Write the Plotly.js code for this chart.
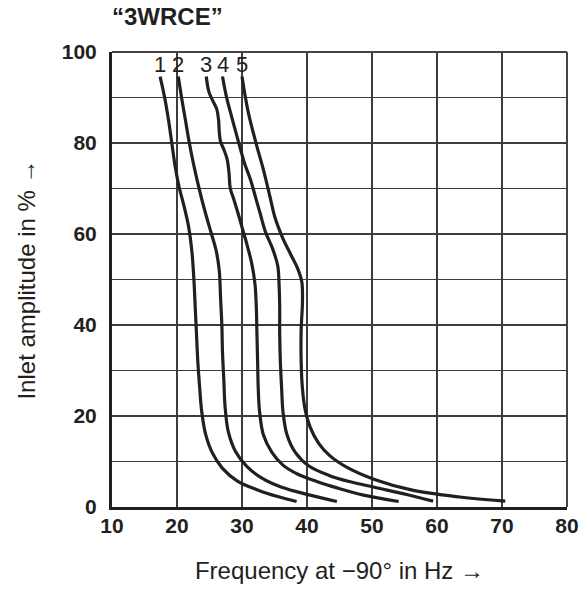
<!DOCTYPE html>
<html>
<head>
<meta charset="utf-8">
<script src="https://cdn.plot.ly/plotly-3.0.1.min.js"></script>
<style>html,body{margin:0;padding:0;background:#fff;}#chart{width:588px;height:593px;}</style>
</head>
<body>
<div id="chart"></div>
<script>
// Curve labels
const curveLabels = ['1', '2', '3', '4', '5'];

// Curve 1
const c1x = [17.4, 18.1, 18.7, 19.2, 19.7, 20.3, 21.1, 21.8, 22.3, 22.6, 22.8, 23.0, 23.2, 23.5, 23.8, 24.4, 25.4, 27.0, 29.3, 32.5, 35.5, 38.4];
const c1y = [94.6, 90.0, 85.0, 80.0, 75.0, 70.5, 66.0, 61.5, 56.0, 50.0, 44.0, 38.0, 32.0, 26.0, 21.0, 16.0, 12.0, 8.5, 5.7, 3.7, 2.3, 1.2];
// Curve 2
const c2x = [20.2, 20.7, 21.3, 21.9, 22.6, 23.4, 24.3, 25.2, 26.0, 26.5, 26.7, 26.9, 27.0, 27.2, 27.4, 27.9, 29.0, 30.7, 33.0, 36.0, 40.5, 44.6];
const c2y = [94.6, 90.0, 85.0, 80.0, 75.0, 70.0, 65.0, 60.5, 56.5, 52.0, 46.0, 40.0, 34.0, 28.0, 22.0, 16.5, 12.2, 9.0, 6.4, 4.4, 2.6, 1.2];
// Curve 3
const c3x = [24.5, 24.9, 25.5, 26.1, 26.4, 26.5, 26.7, 27.2, 27.7, 28.0, 28.2, 28.7, 29.4, 30.1, 30.8, 31.5, 32.0, 32.2, 32.3, 32.4, 32.5, 32.7, 33.3, 34.6, 36.3, 38.6, 41.5, 44.6, 48.7, 54.1];
const c3y = [94.6, 91.3, 89.3, 87.5, 85.0, 82.5, 80.3, 78.6, 76.5, 73.5, 70.0, 67.8, 64.5, 61.0, 57.5, 53.5, 49.0, 44.0, 38.0, 32.0, 26.0, 21.0, 15.8, 12.0, 9.2, 7.2, 5.6, 4.2, 2.6, 1.2];
// Curve 4
const c4x = [27.0, 27.6, 28.4, 29.1, 29.7, 30.4, 31.3, 32.1, 32.8, 33.6, 34.7, 35.5, 35.7, 35.8, 35.8, 35.9, 36.1, 36.3, 36.9, 38.2, 40.3, 43.3, 46.5, 50.5, 55.5, 59.4];
const c4y = [94.6, 90.2, 85.8, 82.1, 79.0, 75.5, 72.0, 68.0, 64.5, 60.5, 56.8, 53.0, 49.0, 44.0, 38.0, 32.0, 26.0, 21.0, 16.0, 12.0, 9.0, 7.0, 5.6, 4.3, 2.7, 1.3];
// Curve 5
const c5x = [30.0, 30.5, 31.0, 31.6, 32.3, 33.3, 34.3, 35.1, 36.3, 37.5, 38.6, 39.2, 39.3, 39.1, 39.1, 39.3, 39.7, 40.5, 41.8, 43.5, 46.3, 50.5, 56.2, 63.5, 70.5];
const c5y = [94.6, 90.2, 86.5, 83.0, 79.2, 74.1, 68.2, 63.5, 59.0, 55.5, 52.3, 49.5, 45.0, 39.0, 32.0, 26.0, 21.5, 17.5, 14.0, 11.3, 8.6, 6.0, 3.7, 2.2, 1.3];

// Axis ticks
const xTickVals = [10, 20, 30, 40, 50, 60, 70, 80];
const xTickText = ['10', '20', '30', '40', '50', '60', '70', '80'];
const yTickVals = [0, 10, 20, 30, 40, 50, 60, 70, 80, 90, 100];
const yTickText = ['0', '', '20', '', '40', '', '60', '', '80', '', '100'];

const curvesX = [c1x, c2x, c3x, c4x, c5x];
const curvesY = [c1y, c2y, c3y, c4y, c5y];

const ink = '#231f20';
const gridCol = '#3c3c3c';
const fam = '"Liberation Sans", Arial, sans-serif';

const traces = curvesX.map((xs, i) => ({
  x: xs, y: curvesY[i], type: 'scatter', mode: 'lines',
  name: curveLabels[i], showlegend: false, hoverinfo: 'skip',
  line: {color: ink, width: 3.2, shape: 'spline', smoothing: 1}
}));

const annotations = curvesX.map((xs, i) => ({
  x: xs[0], y: curvesY[i][0], xref: 'x', yref: 'y',
  text: curveLabels[i], showarrow: false, yanchor: 'middle', xanchor: 'center',
  yshift: 12, font: {family: fam, size: 22, color: ink}
}));

const layout = {
  width: 588, height: 593,
  margin: {l: 112, r: 21, t: 52, b: 86},
  paper_bgcolor: '#fff', plot_bgcolor: '#fff',
  showlegend: false,
  title: {
    text: '“3WRCE”', xref: 'container', yref: 'container',
    x: 112 / 588, xanchor: 'left', y: 1 - 17 / 593, yanchor: 'middle',
    font: {family: fam, size: 24, weight: 'bold', color: ink}
  },
  xaxis: {
    range: [10, 80], tickmode: 'array', tickvals: xTickVals, ticktext: xTickText,
    showgrid: true, gridcolor: gridCol, gridwidth: 1.5, zeroline: false,
    showline: true, linecolor: ink, linewidth: 3, ticks: '', ticklabelstandoff: -2,
    tickfont: {family: fam, size: 21, weight: 'bold', color: ink},
    title: {text: 'Frequency at −90° in Hz →', standoff: 26, font: {family: fam, size: 24, color: ink}},
    fixedrange: true
  },
  yaxis: {
    range: [0, 100], tickmode: 'array', tickvals: yTickVals, ticktext: yTickText,
    showgrid: true, gridcolor: gridCol, gridwidth: 1.5, zeroline: false,
    showline: true, linecolor: ink, linewidth: 3, ticks: '', ticklabelstandoff: 8,
    tickfont: {family: fam, size: 21, weight: 'bold', color: ink},
    title: {text: 'Inlet amplitude in % →', standoff: 20, font: {family: fam, size: 24, color: ink}},
    fixedrange: true
  },
  shapes: [
    {type: 'line', xref: 'paper', yref: 'paper', x0: 0, x1: 1, y0: 1, y1: 1, line: {color: '#444', width: 2}},
    {type: 'line', xref: 'paper', yref: 'paper', x0: 1, x1: 1, y0: 0, y1: 1, line: {color: '#444', width: 2}}
  ],
  annotations: annotations
};

Plotly.newPlot('chart', traces, layout, {staticPlot: true, displayModeBar: false});
</script>
</body>
</html>
